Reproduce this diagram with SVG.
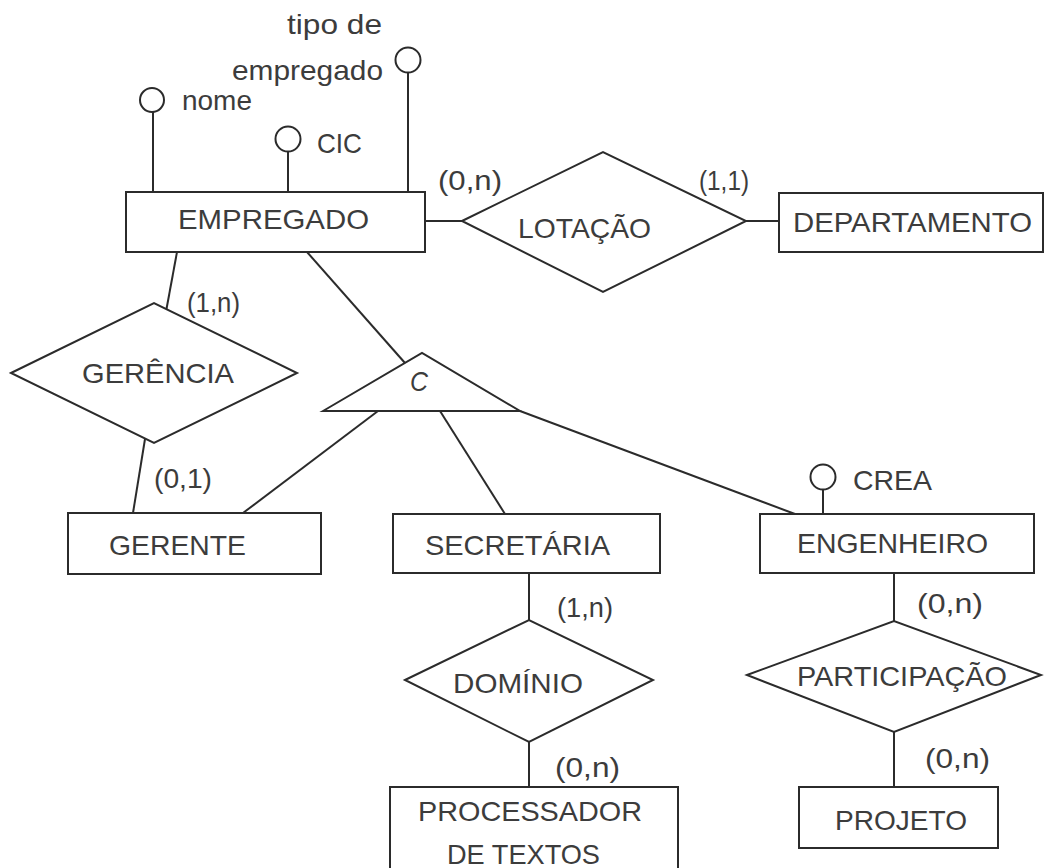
<svg xmlns="http://www.w3.org/2000/svg" width="1045" height="868" viewBox="0 0 1045 868">
<style>
.bg{fill:#ffffff}
.s{fill:#ffffff;stroke:#2b2b2b;stroke-width:2}
.ln{fill:none;stroke:#2b2b2b;stroke-width:2}
.t{font-family:"Liberation Sans",Arial,sans-serif;font-size:28px;fill:#3c3c3c}
</style>
<rect class="bg" x="0" y="0" width="1045" height="868"/>
<g id="connectors">
<line class="ln" x1="153" y1="112" x2="153" y2="192"/>
<line class="ln" x1="288" y1="152" x2="288" y2="192"/>
<line class="ln" x1="408" y1="73" x2="408" y2="192"/>
<line class="ln" x1="425" y1="221" x2="462" y2="221"/>
<line class="ln" x1="746" y1="221" x2="779" y2="221"/>
<line class="ln" x1="177" y1="252" x2="166.5" y2="309"/>
<line class="ln" x1="145" y1="439" x2="133" y2="513"/>
<line class="ln" x1="307" y1="252" x2="405" y2="363"/>
<line class="ln" x1="378" y1="411" x2="243" y2="513"/>
<line class="ln" x1="440" y1="411" x2="505" y2="514"/>
<line class="ln" x1="520" y1="411" x2="795" y2="514"/>
<line class="ln" x1="823" y1="490" x2="823" y2="514"/>
<line class="ln" x1="529" y1="573" x2="529" y2="620"/>
<line class="ln" x1="529" y1="742" x2="529" y2="787"/>
<line class="ln" x1="894" y1="573" x2="894" y2="621"/>
<line class="ln" x1="894" y1="732" x2="894" y2="787"/>
<text class="t" x="438" y="190" textLength="64" lengthAdjust="spacingAndGlyphs">(0,n)</text>
<text class="t" x="699" y="190" textLength="50" lengthAdjust="spacingAndGlyphs">(1,1)</text>
<text class="t" x="187" y="312" textLength="53" lengthAdjust="spacingAndGlyphs">(1,n)</text>
<text class="t" x="154" y="488" textLength="58" lengthAdjust="spacingAndGlyphs">(0,1)</text>
<text class="t" x="557" y="617" textLength="56" lengthAdjust="spacingAndGlyphs">(1,n)</text>
<text class="t" x="555" y="777" textLength="65" lengthAdjust="spacingAndGlyphs">(0,n)</text>
<text class="t" x="917" y="613" textLength="66" lengthAdjust="spacingAndGlyphs">(0,n)</text>
<text class="t" x="925" y="768" textLength="65" lengthAdjust="spacingAndGlyphs">(0,n)</text>
</g>
<g id="attr-nome">
<circle class="s" cx="152" cy="100" r="12"/>
<text class="t" x="182" y="110" textLength="70" lengthAdjust="spacingAndGlyphs">nome</text>
</g>
<g id="attr-cic">
<circle class="s" cx="288" cy="139" r="12.5"/>
<text class="t" x="317" y="153" textLength="45" lengthAdjust="spacingAndGlyphs">CIC</text>
</g>
<g id="attr-tipo">
<circle class="s" cx="408" cy="60" r="12.5"/>
<text class="t" x="287" y="34" textLength="95" lengthAdjust="spacingAndGlyphs">tipo de</text>
<text class="t" x="232" y="80" textLength="151" lengthAdjust="spacingAndGlyphs">empregado</text>
</g>
<g id="empregado">
<rect class="s" x="126" y="192" width="299" height="60"/>
<text class="t" x="178" y="229" textLength="191" lengthAdjust="spacingAndGlyphs">EMPREGADO</text>
</g>
<g id="lotacao">
<polygon class="s" points="462,221 603,152 746,221 603,292"/>
<text class="t" x="518" y="238" textLength="133" lengthAdjust="spacingAndGlyphs">LOTAÇÃO</text>
</g>
<g id="departamento">
<rect class="s" x="779" y="193" width="264" height="59"/>
<text class="t" x="793" y="232" textLength="239" lengthAdjust="spacingAndGlyphs">DEPARTAMENTO</text>
</g>
<g id="gerencia">
<polygon class="s" points="11,373 154,303 297,373 154,443"/>
<text class="t" x="82" y="383" textLength="152" lengthAdjust="spacingAndGlyphs">GERÊNCIA</text>
</g>
<g id="especializacao">
<polygon class="s" points="323,411 422,353 520,411"/>
<text class="t" x="410" y="391" textLength="18" lengthAdjust="spacingAndGlyphs" font-style="italic">C</text>
</g>
<g id="gerente">
<rect class="s" x="68" y="513" width="253" height="61"/>
<text class="t" x="109" y="555" textLength="137" lengthAdjust="spacingAndGlyphs">GERENTE</text>
</g>
<g id="secretaria">
<rect class="s" x="393" y="514" width="267" height="59"/>
<text class="t" x="425" y="555" textLength="185" lengthAdjust="spacingAndGlyphs">SECRETÁRIA</text>
</g>
<g id="engenheiro">
<rect class="s" x="760" y="514" width="274" height="59"/>
<text class="t" x="797" y="553" textLength="191" lengthAdjust="spacingAndGlyphs">ENGENHEIRO</text>
</g>
<g id="attr-crea">
<circle class="s" cx="823" cy="477" r="12.5"/>
<text class="t" x="853" y="490" textLength="79" lengthAdjust="spacingAndGlyphs">CREA</text>
</g>
<g id="dominio">
<polygon class="s" points="405,680 529,620 653,680 529,742"/>
<text class="t" x="453" y="693" textLength="130" lengthAdjust="spacingAndGlyphs">DOMÍNIO</text>
</g>
<g id="participacao">
<polygon class="s" points="747,675 894,621 1041,675 894,732"/>
<text class="t" x="797" y="686" textLength="210" lengthAdjust="spacingAndGlyphs">PARTICIPAÇÃO</text>
</g>
<g id="processador">
<rect class="s" x="390" y="787" width="288" height="100"/>
<text class="t" x="418" y="821" textLength="224" lengthAdjust="spacingAndGlyphs">PROCESSADOR</text>
<text class="t" x="447" y="864" textLength="153" lengthAdjust="spacingAndGlyphs">DE TEXTOS</text>
</g>
<g id="projeto">
<rect class="s" x="799" y="787" width="199" height="61"/>
<text class="t" x="835" y="830" textLength="132" lengthAdjust="spacingAndGlyphs">PROJETO</text>
</g>
</svg>
